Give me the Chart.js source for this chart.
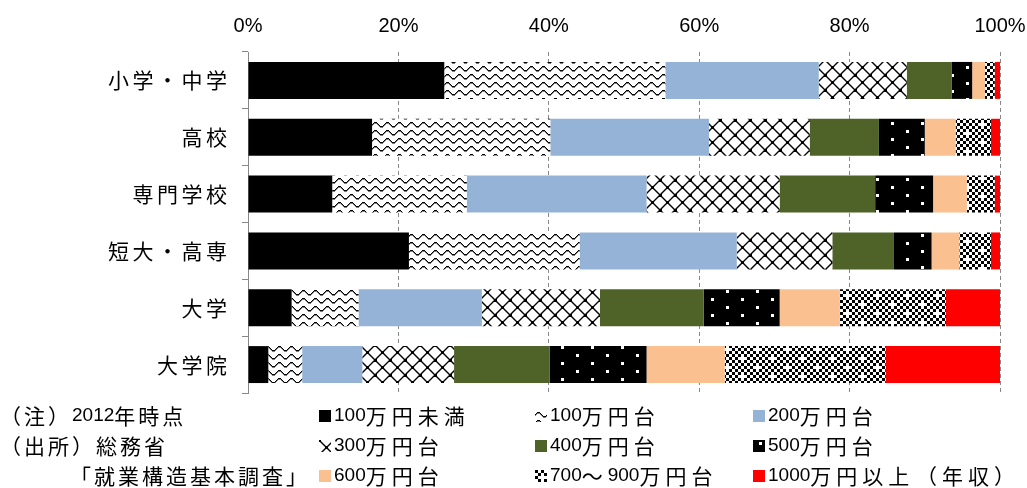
<!DOCTYPE html>
<html lang="ja">
<head>
<meta charset="utf-8">
<title>学歴別 年収分布</title>
<script src="https://cdn.jsdelivr.net/npm/chart.js@4"></script>
<style>
  html, body { margin: 0; padding: 0; background: #fff; }
  #wrap { width: 1027px; height: 488px; }
</style>
</head>
<body>
<div id="wrap"><canvas id="incomeChart" width="1027" height="488"></canvas></div>
<script>
// 学歴
var categories = ['小学・中学', '高校', '専門学校', '短大・高専', '大学', '大学院'];

// 年収階級ごとの構成比（%）
var under100  = [26.1, 16.5, 11.2, 21.4,  5.8,  2.7];
var band100   = [29.4, 23.7, 17.9, 22.7,  8.9,  4.5];
var band200   = [20.4, 21.1, 23.9, 20.9, 16.4,  8.0];
var band300   = [11.7, 13.4, 17.7, 12.7, 15.7, 12.2];
var band400   = [ 6.0,  9.2, 12.7,  8.2, 13.8, 12.7];
var band500   = [ 2.7,  6.1,  7.7,  5.0, 10.1, 12.9];
var band600   = [ 1.7,  4.1,  4.5,  3.7,  8.0, 10.4];
var band700   = [ 1.3,  4.7,  3.7,  4.2, 14.1, 21.4];
var over1000  = [ 0.7,  1.2,  0.7,  1.2,  7.2, 15.2];

var seriesNames = ['100万円未満', '100万円台', '200万円台', '300万円台', '400万円台',
                   '500万円台', '600万円台', '700～900万円台', '1000万円以上'];
var xTicks = [0, 20, 40, 60, 80, 100];

var notes = ['（注）2012年時点', '（出所）総務省', '「就業構造基本調査」'];

// --- fill patterns ---------------------------------------------------
function makePattern(w, h, paint) {
  var c = document.createElement('canvas');
  c.width = w; c.height = h;
  var g = c.getContext('2d');
  paint(g, w, h);
  return document.getElementById('incomeChart').getContext('2d').createPattern(c, 'repeat');
}

// small wave lines
var wavePat = makePattern(12, 8, function (g, w, h) {
  g.fillStyle = '#fff'; g.fillRect(0, 0, w, h);
  g.fillStyle = '#000';
  for (var x = 0; x < w; x++) {
    var y = Math.round(4 - 2 * Math.sin(2 * Math.PI * x / w));
    g.fillRect(x, y, 1, 1.5);
  }
});

// diagonal lattice
var diamondPat = makePattern(15, 15, function (g, w, h) {
  g.fillStyle = '#fff'; g.fillRect(0, 0, w, h);
  g.strokeStyle = '#000'; g.lineWidth = 1.4;
  g.beginPath();
  g.moveTo(-2, -2); g.lineTo(w + 2, h + 2);
  g.moveTo(w + 2, -2); g.lineTo(-2, h + 2);
  g.stroke();
  g.fillStyle = '#000';
  g.fillRect(6, 6, 3, 3);
  g.fillRect(0, 0, 2, 2); g.fillRect(w - 1, 0, 1, 2);
  g.fillRect(0, h - 1, 2, 1); g.fillRect(w - 1, h - 1, 1, 1);
});

// white dots on black
var dotPat = makePattern(30, 16, function (g, w, h) {
  g.fillStyle = '#000'; g.fillRect(0, 0, w, h);
  g.fillStyle = '#fff';
  g.fillRect(6, 2, 3, 3);
  g.fillRect(21, 10, 3, 3);
});

// small checkerboard with white spots
var checkPat = makePattern(30, 18, function (g, w, h) {
  g.fillStyle = '#fff'; g.fillRect(0, 0, w, h);
  g.fillStyle = '#000';
  for (var i = 0; i < 10; i++) {
    for (var j = 0; j < 6; j++) {
      if ((i + j) % 2 === 0 && !(i === 2 && j === 2) && !(i === 7 && j === 5)) {
        g.fillRect(i * 3, j * 3, 3, 3);
      }
    }
  }
});

var fills = ['#000000', wavePat, '#95B3D7', diamondPat, '#4F6228',
             dotPat, '#FAC090', checkPat, '#FF0000'];
var seriesData = [under100, band100, band200, band300, band400,
                  band500, band600, band700, over1000];

// --- mixed Latin / CJK text --------------------------------------------
function drawMixed(ctx, text, x, y, st, draw) {
  var cx = x;
  for (var k = 0; k < text.length; k++) {
    var ch = text[k];
    var latin = ch.charCodeAt(0) < 128;
    ctx.font = latin ? st.latin + 'px "Liberation Sans", Arial, sans-serif'
                     : st.cjk + 'px "Noto Sans CJK JP", sans-serif';
    var w = ctx.measureText(ch).width + (latin ? 0 : st.gap);
    if (draw) ctx.fillText(ch, cx, y);
    cx += w;
  }
  return cx - x;
}

var labelStyle  = { latin: 19, cjk: 21, gap: 3.5 };
var legendStyle = { latin: 19, cjk: 21, gap: 5 };
var noteStyle   = { latin: 19, cjk: 21, gap: 3 };

var sideText = {
  id: 'sideText',
  afterDraw: function (chart) {
    var ctx = chart.ctx;
    var y = chart.scales.y;
    ctx.save();
    ctx.fillStyle = '#000';
    ctx.textBaseline = 'middle';
    ctx.textAlign = 'left';

    // 学歴ラベル（右寄せ）
    categories.forEach(function (name, i) {
      var py = y.getPixelForTick(i);
      var w = drawMixed(ctx, name, 0, py, labelStyle, false) - labelStyle.gap;
      drawMixed(ctx, name, 227 - w, py, labelStyle, true);
    });

    // 注記
    var rows = [416, 446, 476];
    drawMixed(ctx, notes[0], 0, rows[0], noteStyle, true);
    drawMixed(ctx, notes[1], 0, rows[1], noteStyle, true);
    drawMixed(ctx, notes[2], 70, rows[2], noteStyle, true);

    // 凡例（3列）：マーカーは模様の原点をそろえて塗る
    var cols = [319, 535, 753];
    chart.data.datasets.forEach(function (ds, i) {
      var cx = cols[i % 3], cy = rows[Math.floor(i / 3)];
      ctx.save();
      ctx.translate(cx, cy - 6);
      ctx.fillStyle = ds.backgroundColor;
      ctx.fillRect(0, 0, 12, 12);
      ctx.restore();
      ctx.fillStyle = '#000';
      drawMixed(ctx, ds.label, cx + 15, cy, legendStyle, true);
    });
    drawMixed(ctx, '（年収）', 916, rows[2], legendStyle, true);
    ctx.restore();
  }
};

var ctx = document.getElementById('incomeChart').getContext('2d');
var chart = new Chart(ctx, {
  type: 'bar',
  data: {
    labels: categories,
    datasets: seriesNames.map(function (name, i) {
      return {
        label: name,
        data: seriesData[i],
        backgroundColor: fills[i],
        borderWidth: 0,
        barPercentage: 1,
        categoryPercentage: 0.65
      };
    })
  },
  options: {
    indexAxis: 'y',
    responsive: false,
    animation: false,
    devicePixelRatio: 1,
    layout: { padding: { top: 12, left: 242, right: 27, bottom: 95 } },
    plugins: {
      legend: { display: false },
      tooltip: { enabled: false }
    },
    scales: {
      x: {
        position: 'top',
        stacked: true,
        min: 0,
        max: 100,
        afterBuildTicks: function (scale) {
          scale.ticks = xTicks.map(function (v) { return { value: v }; });
        },
        afterFit: function (scale) {
          scale.height = 40;
          scale.paddingLeft = 0;
          scale.paddingRight = 0;
        },
        ticks: {
          padding: 14,
          color: '#000',
          font: { family: '"Liberation Sans", Arial, sans-serif', size: 20 },
          callback: function (v) { return v + '%'; }
        },
        grid: { color: '#888', lineWidth: 1, drawTicks: false },
        border: { display: false, dash: [4, 3] }
      },
      y: {
        stacked: true,
        ticks: { display: false },
        grid: { drawOnChartArea: false, drawTicks: true, tickLength: 6, tickColor: '#888' },
        border: { display: true, color: '#888', width: 1 }
      }
    }
  },
  plugins: [sideText]
});
</script>
</body>
</html>
